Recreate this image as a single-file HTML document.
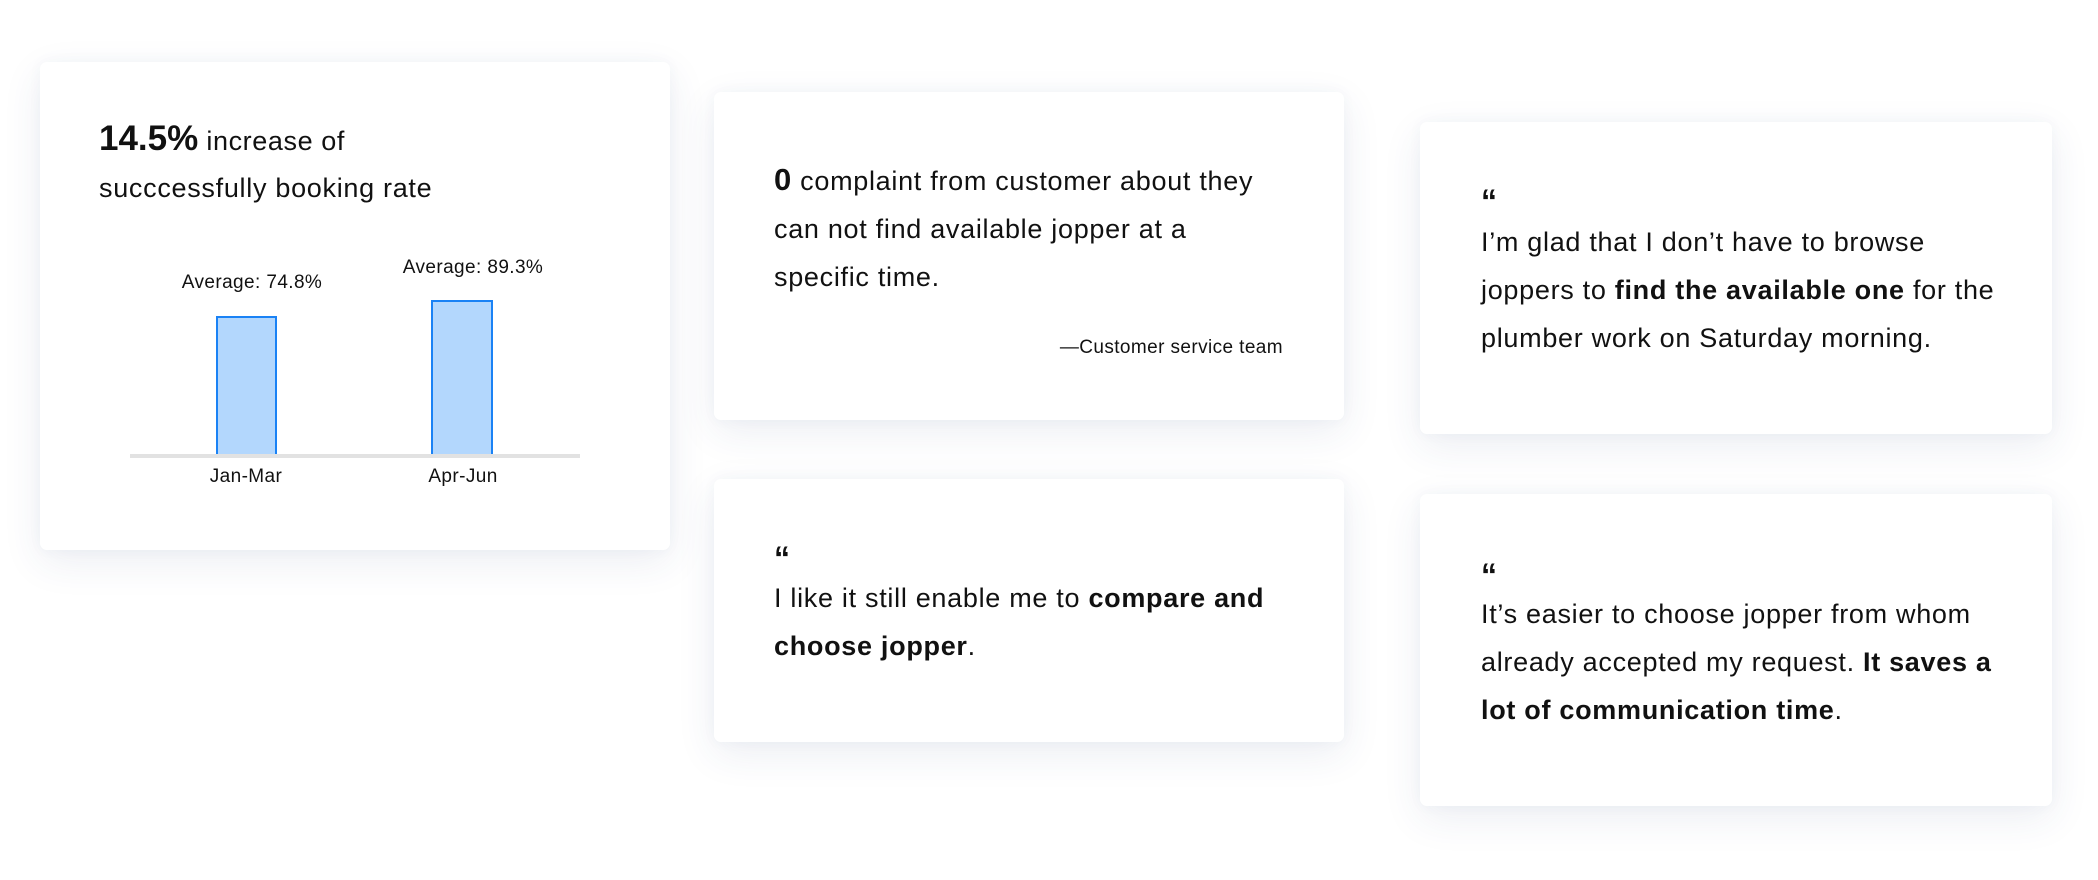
<!DOCTYPE html>
<html><head><meta charset="utf-8"><style>
*{margin:0;padding:0;box-sizing:border-box}
body{width:2098px;height:880px;background:#fff;position:relative;overflow:hidden;font-family:"Liberation Sans",Arial,sans-serif;color:#111}
.card{position:absolute;background:#fff;border-radius:7px;box-shadow:0 12px 40px rgba(40,70,120,0.09),0 0 14px rgba(40,70,120,0.04)}
.t{position:absolute;white-space:nowrap;font-size:27px;line-height:48px;letter-spacing:0.7px}
.q{position:absolute;font-size:32px;font-weight:bold;line-height:1}
b{font-weight:bold}
.s{position:absolute;font-size:19px;white-space:nowrap;letter-spacing:0.4px}
.bar{position:absolute;background:#b3d7fd;border:2px solid #1a82f5;border-bottom:none}
</style></head><body>
<div class="card" style="left:40px;top:62px;width:630px;height:488px"></div>
<div class="card" style="left:714px;top:92px;width:630px;height:328px"></div>
<div class="card" style="left:714px;top:479px;width:630px;height:263px"></div>
<div class="card" style="left:1420px;top:122px;width:632px;height:312px"></div>
<div class="card" style="left:1420px;top:494px;width:632px;height:312px"></div>

<div class="t" style="left:99px;top:115px;letter-spacing:0.6px"><b style="font-size:35px;letter-spacing:0">14.5%</b> increase of</div>
<div class="t" style="left:99px;top:164px;letter-spacing:0.7px">succcessfully booking rate</div>
<div style="position:absolute;left:130px;top:454px;width:450px;height:4px;background:#e2e2e2"></div>
<div class="bar" style="left:216px;top:316px;width:61px;height:138px"></div>
<div class="bar" style="left:431px;top:300px;width:62px;height:154px"></div>
<div class="s" style="left:152px;width:200px;text-align:center;top:272px">Average: 74.8%</div>
<div class="s" style="left:373px;width:200px;text-align:center;top:257px">Average: 89.3%</div>
<div class="s" style="left:146px;width:200px;text-align:center;top:466px">Jan-Mar</div>
<div class="s" style="left:363px;width:200px;text-align:center;top:466px">Apr-Jun</div>

<div class="t" style="left:774px;top:156px"><b style="font-size:31px">0</b> complaint from customer about they<br>can not find available jopper at a<br>specific time.</div>
<div class="s" style="left:1000px;width:283px;text-align:right;top:337px">—Customer service team</div>

<div class="q" style="left:774px;top:542px">“</div>
<div class="t" style="left:774px;top:574px">I like it still enable me to <b>compare and</b><br><b>choose jopper</b>.</div>

<div class="q" style="left:1481px;top:185px">“</div>
<div class="t" style="left:1481px;top:218px">I’m glad that I don’t have to browse<br>joppers to <b>find the available one</b> for the<br>plumber work on Saturday morning.</div>

<div class="q" style="left:1481px;top:559px">“</div>
<div class="t" style="left:1481px;top:590px">It’s easier to choose jopper from whom<br>already accepted my request. <b>It saves a</b><br><b>lot of communication time</b>.</div>
</body></html>
